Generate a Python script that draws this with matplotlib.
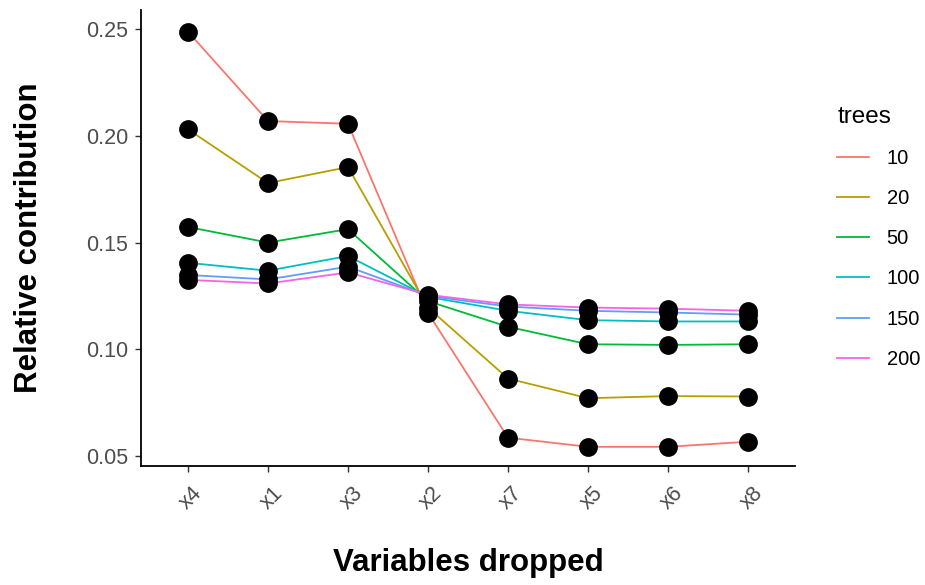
import matplotlib
matplotlib.use("Agg")
import matplotlib.pyplot as plt
from matplotlib.transforms import ScaledTranslation

plt.rcParams["font.family"] = ["Liberation Sans", "DejaVu Sans"]

variables = ["x4", "x1", "x3", "x2", "x7", "x5", "x6", "x8"]
trees = ["10", "20", "50", "100", "150", "200"]
colors = ["#F8766D", "#B79F00", "#00BA38", "#00BFC4", "#619CFF", "#F564E3"]

t10 = [0.2489, 0.2070, 0.2057, 0.1170, 0.0585, 0.0542, 0.0542, 0.0566]
t20 = [0.2031, 0.1779, 0.1854, 0.1195, 0.0862, 0.0770, 0.0780, 0.0778]
t50 = [0.1573, 0.1500, 0.1563, 0.1225, 0.1105, 0.1023, 0.1020, 0.1023]
t100 = [0.1405, 0.1368, 0.1437, 0.1245, 0.1180, 0.1136, 0.1130, 0.1130]
t150 = [0.1348, 0.1327, 0.1387, 0.1250, 0.1200, 0.1180, 0.1172, 0.1162]
t200 = [0.1325, 0.1308, 0.1360, 0.1255, 0.1210, 0.1195, 0.1190, 0.1180]
series = [t10, t20, t50, t100, t150, t200]

fig = plt.figure(figsize=(9.25, 5.85), dpi=100)
ax = fig.add_axes([0.1524, 0.2034, 0.7071, 0.7796])

xs = list(range(len(variables)))
for name, col, ys in zip(trees, colors, series):
    ax.plot(xs, ys, color=col, lw=1.3, label=name, zorder=2)
for ys in series:
    ax.plot(xs, ys, "o", color="black", ms=12.5, zorder=3)

ax.set_xlim(-0.5875, 7.5875)
ax.set_ylim(0.0452, 0.2591)
ax.set_xticks(xs)
ax.set_xticklabels(variables, rotation=45, ha="right", rotation_mode="anchor")
ax.set_yticks([0.05, 0.10, 0.15, 0.20, 0.25])
ax.set_yticklabels(["0.05", "0.10", "0.15", "0.20", "0.25"])
ax.tick_params(labelsize=15.5, labelcolor="#4D4D4D", color="#333333", length=4, width=1)
ax.tick_params(axis="y", pad=5)
for lab in ax.get_xticklabels():
    lab.set_transform(lab.get_transform() + ScaledTranslation(0.04, -0.06, fig.dpi_scale_trans))

for s in ["top", "right"]:
    ax.spines[s].set_visible(False)
for s in ["left", "bottom"]:
    ax.spines[s].set_linewidth(1.3)
    ax.spines[s].set_color("black")

fig.text(468 / 925, 1 - 563 / 585, "Variables dropped", fontsize=22.5, fontweight="bold",
         ha="center", va="center")
fig.text(29 / 925, 1 - 238 / 585, "Relative contribution", fontsize=22.5, fontweight="bold",
         ha="center", va="center", rotation=90)

leg = ax.legend(title="trees", loc="upper left", bbox_to_anchor=(1.04, 0.825),
                frameon=False, fontsize=14.5, title_fontsize=17.5, handlelength=1.55,
                labelspacing=1.05, handletextpad=0.9, borderpad=0.3)
leg._legend_box.align = "left"

fig.savefig("out.png", dpi=100)
